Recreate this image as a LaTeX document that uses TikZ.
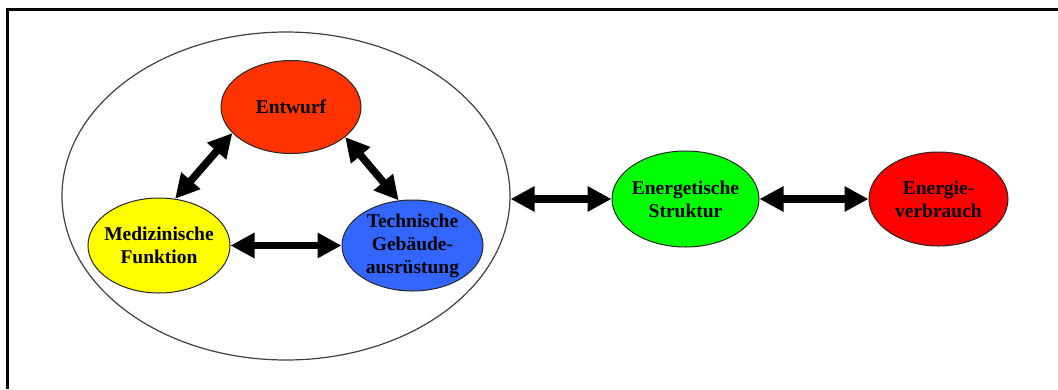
\documentclass[tikz,border=0pt]{standalone}
\usepackage{fontspec}
\setmainfont{Liberation Serif}
\usetikzlibrary{shapes.geometric,arrows.meta}
\definecolor{entwurfred}{RGB}{255,51,0}
\definecolor{medyellow}{RGB}{255,255,0}
\definecolor{techblue}{RGB}{51,102,255}
\definecolor{energygreen}{RGB}{0,255,0}
\definecolor{usagered}{RGB}{255,0,0}
\begin{document}
\begin{tikzpicture}[x=1pt,y=-1pt,
  bubble/.style={ellipse,draw=black!85,line width=1pt,inner sep=0pt},
  captxt/.style={align=center,inner sep=0pt,text=black,
    font=\bfseries\fontsize{19.5}{23}\selectfont},
  caption/.style={label={[captxt]center:#1}},
  link/.style={line width=7.5pt,draw=black,
    {Triangle[length=24pt,width=24pt]}-{Triangle[length=24pt,width=24pt]}}]
\useasboundingbox (0,0) rectangle (1058,389);

% open frame: left and top edges
\draw[line width=3pt] (7.5,389) -- (7.5,9.5) -- (1058,9.5);

% enclosing ellipse of the design triangle
\node[ellipse,draw=black!75,line width=1.2pt,inner sep=0pt,
      minimum width=448pt,minimum height=328pt] (group) at (286,196) {};

% the five topics
\node[bubble,fill=entwurfred,minimum width=140pt,minimum height=93pt,
      caption={Entwurf}] (ent) at (291,107) {};
\node[bubble,fill=medyellow,minimum width=142pt,minimum height=95pt,
      caption={Medizinische\\Funktion}] (med) at (159,245.5) {};
\node[bubble,fill=techblue,minimum width=141pt,minimum height=91pt,
      caption={Technische\\Gebäude-\\ausrüstung}] (tech) at (412.5,245.5) {};
\node[bubble,fill=energygreen,minimum width=147pt,minimum height=96pt,
      caption={Energetische\\Struktur}] (struct) at (685.5,199) {};
\node[bubble,fill=usagered,minimum width=139pt,minimum height=94pt,
      caption={Energie-\\verbrauch}] (usage) at (938.5,199) {};

% mutual influences
\draw[link] (ent.204.7) -- (med.71.2);
\draw[link] (ent.331) -- (tech.107.7);
\draw[link] (med.east) -- (tech.west);
\draw[link] (group.east |- struct.west) -- (struct.west);
\draw[link] (struct.east) -- (usage.west);
\end{tikzpicture}
\end{document}
